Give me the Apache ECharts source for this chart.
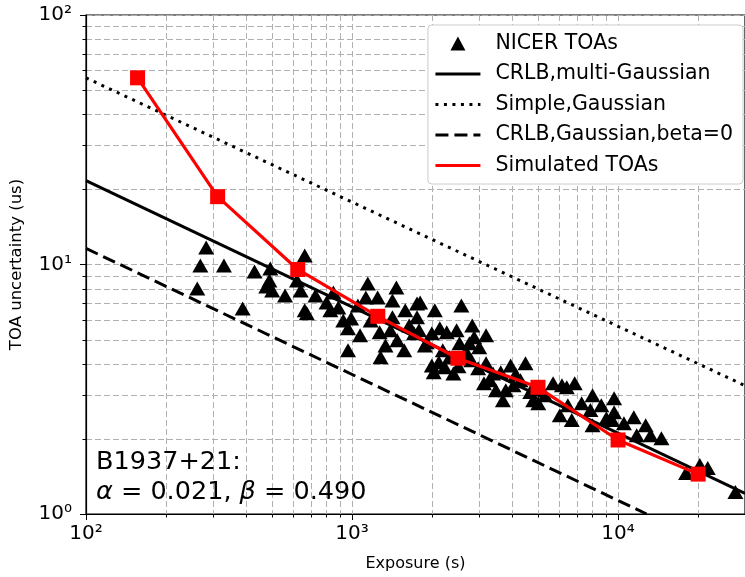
<!DOCTYPE html>
<html>
<head>
<meta charset="utf-8">
<script src="https://cdn.jsdelivr.net/npm/echarts@6/dist/echarts.min.js"></script>
<style>
html, body { margin: 0; padding: 0; background: #fff; }
#chart { width: 745px; height: 577px; }
</style>
</head>
<body>
<div id="chart"></div>
<script>
// NICER TOAs: exposure (s) and TOA uncertainty (us)
var nicerExposure = [262, 269, 283, 330, 388, 430, 493, 489, 476, 501, 560, 641, 621, 676, 664, 664,
    729, 802, 851, 888, 829, 992, 966, 966, 1146, 1127, 1248, 1270, 1280, 1419, 1394, 1585, 1755,
    1755, 1571, 1710, 1803, 2047, 2576, 1786, 1995, 2138, 2270, 2472, 2535, 2761, 2878, 3190, 3006,
    1995, 2120, 2028, 2230, 2404, 3190, 3388, 3133, 3475, 3945, 4487, 4298, 3690, 3784, 4797, 2328,
    5012, 5699, 6152, 6414, 6871, 7295, 6040, 6698, 6475, 8017, 9664, 9664, 9500, 10520, 11460,
    12700, 13250, 11750, 14550, 18020, 20290, 21730, 27610, 927, 1072, 1175, 1336, 1479, 1640, 1878,
    2643, 2806, 3622, 4046, 4677, 5321, 8017, 8650, 9036, 7870, 1468,
    1910, 2193, 2692, 2512, 2979, 3303, 4121, 2830, 5098, 1052, 1419];
var nicerError = [8.02, 9.9, 11.7, 9.9, 6.67, 9.38, 9.64, 8.63, 8.17, 7.87, 7.52, 7.87, 8.63, 6.37, 10.86, 6.55,
    7.52, 7.05, 7.73, 6.73, 6.55, 6.08, 5.55, 4.53, 8.39, 7.38, 7.38, 5.35, 4.25, 6.14, 5.45, 6.55, 6.98,
    6.14, 4.53, 5.30, 7.05, 6.55, 6.85, 5.45, 5.30, 5.55, 5.35, 5.45, 4.83, 4.83, 5.11, 5.2, 4.66,
    3.94, 4.06, 3.70, 3.87, 3.66, 4.02, 3.66, 3.34, 3.13, 3.94, 4.02, 3.44, 2.86, 3.13, 2.86, 4.25,
    2.78, 3.34, 3.28, 3.22, 3.34, 2.78, 2.49, 2.38, 2.73, 2.27, 2.91, 2.56, 2.38, 2.31, 2.44,
    2.27, 2.07, 2.07, 2.01, 1.46, 1.57, 1.53, 1.225, 5.97, 5.2, 5.97, 4.74, 4.97, 5.70, 4.74,
    4.33, 4.13, 3.70, 3.28, 3.08, 2.99, 2.99, 2.73, 2.42, 2.61, 8.09,
    4.88, 4.53, 4.45, 3.91, 3.84, 3.44, 3.63, 5.70, 3.19, 6.85, 7.18];

// model curves (straight in log-log), end points
var crlbMultiX = [100, 30000];
var crlbMultiY = [21.7, 1.21];
var simpleX = [100, 30000];
var simpleY = [56, 3.27];
var crlbBeta0X = [100, 12800];
var crlbBeta0Y = [11.6, 1.0];

// simulated TOAs
var simX = [156.25, 312.5, 625, 1250, 2500, 5000, 10000, 20000];
var simY = [56, 18.7, 9.55, 6.2, 4.21, 3.22, 1.98, 1.445];

// minor grid positions
var minorX = [200, 300, 400, 500, 600, 700, 800, 900, 2000, 3000, 4000, 5000, 6000, 7000, 8000, 9000, 20000];
var minorY = [2, 3, 4, 5, 6, 7, 8, 9, 20, 30, 40, 50, 60, 70, 80, 90];

var sup = { '0': '\u2070', '1': '\u00b9', '2': '\u00b2', '3': '\u00b3', '4': '\u2074' };
function powLabel(v) {
    var e = Math.log10(v);
    if (Math.abs(e - Math.round(e)) > 1e-6) return '';
    return '10' + sup[String(Math.round(e))];
}

function zip(a, b) {
    return a.map(function (v, i) { return [v, b[i]]; });
}

var gridColor = '#b0b0b0';
var noMark = { color: 'rgba(0,0,0,0)', borderWidth: 0 };

function minorXItem(params, api) {
    var cs = params.coordSys;
    var x = Math.round(api.coord([api.value(0), 10])[0]) + 0.5;
    var yb = cs.y + cs.height;
    return {
        type: 'group',
        children: [
            { type: 'line', shape: { x1: x, y1: cs.y, x2: x, y2: yb },
              style: { stroke: gridColor, lineWidth: 1, lineDash: [6, 3] } },
            { type: 'line', shape: { x1: x, y1: yb, x2: x, y2: yb + 3.5 },
              style: { stroke: '#000', lineWidth: 1 } }
        ]
    };
}
function minorYItem(params, api) {
    var cs = params.coordSys;
    var y = Math.round(api.coord([1000, api.value(1)])[1]) + 0.5;
    return {
        type: 'group',
        children: [
            { type: 'line', shape: { x1: cs.x, y1: y, x2: cs.x + cs.width, y2: y },
              style: { stroke: gridColor, lineWidth: 1, lineDash: [6, 3] } },
            { type: 'line', shape: { x1: cs.x - 3.5, y1: y, x2: cs.x, y2: y },
              style: { stroke: '#000', lineWidth: 1 } }
        ]
    };
}

var chart = echarts.init(document.getElementById('chart'));
var font = 'DejaVu Sans';
// triangle centred in a 45x14 legend box (degenerate end pieces only set the box)
var triIcon = 'path://M0,7L0.01,7Z M15,14L22.5,0L30,14Z M44.99,7L45,7Z';

chart.setOption({
    animation: false,
    textStyle: { fontFamily: font },
    grid: {
        left: 84, top: 15, bottom: 63, right: -8,
        show: true, borderColor: '#000', borderWidth: 1.2, backgroundColor: 'transparent'
    },
    xAxis: {
        type: 'log', logBase: 10, min: 100, max: 30000,
        name: 'Exposure (s)', nameLocation: 'middle', nameGap: 42,
        nameTextStyle: { fontSize: 16, color: '#000', fontFamily: font },
        axisLine: { show: true, lineStyle: { color: '#000', width: 1.2 } },
        axisTick: { show: true, length: 6, lineStyle: { color: '#000' } },
        axisLabel: { formatter: powLabel, fontSize: 20, color: '#000', margin: 10, fontFamily: font, showMaxLabel: false },
        splitLine: { show: true, lineStyle: { color: gridColor, type: [6, 3], width: 1 } }
    },
    yAxis: {
        type: 'log', logBase: 10, min: 1, max: 100,
        name: 'TOA uncertainty (us)', nameLocation: 'middle', nameGap: 61,
        nameTextStyle: { fontSize: 16.5, color: '#000', fontFamily: font },
        axisLine: { show: true, lineStyle: { color: '#000', width: 1.2 } },
        axisTick: { show: true, length: 6, lineStyle: { color: '#000' } },
        axisLabel: { formatter: powLabel, fontSize: 20, color: '#000', margin: 14, fontFamily: font },
        splitLine: { show: true, lineStyle: { color: gridColor, type: [6, 3], width: 1 } }
    },
    legend: {
        orient: 'vertical', right: 2, top: 25,
        backgroundColor: '#fff', borderColor: '#cccccc', borderWidth: 1, borderRadius: 4,
        padding: [8, 10, 8, 6],
        itemWidth: 45, itemHeight: 14, itemGap: 9.5,
        lineStyle: { width: 3 },
        textStyle: { fontSize: 20.5, color: '#000', fontFamily: font, padding: [0, 0, 0, 10] },
        data: [
            { name: 'NICER TOAs', icon: triIcon },
            'CRLB,multi-Gaussian', 'Simple,Gaussian', 'CRLB,Gaussian,beta=0', 'Simulated TOAs'
        ]
    },
    graphic: [{
        type: 'text', left: 96, top: 447, z: 100,
        style: {
            text: 'B1937+21:\n{i|\u03b1} = 0.021, {i|\u03b2} = 0.490',
            fontSize: 25.5, fontFamily: font, fill: '#000', lineHeight: 30,
            rich: { i: { fontStyle: 'italic', fontSize: 25.5, fontFamily: font } }
        }
    }],
    series: [
        {
            name: 'minorX', type: 'custom', renderItem: minorXItem, silent: true, z: 0,
            data: minorX.map(function (v) { return [v, 10]; })
        },
        {
            name: 'minorY', type: 'custom', renderItem: minorYItem, silent: true, z: 0,
            data: minorY.map(function (v) { return [1000, v]; })
        },
        {
            name: 'NICER TOAs', type: 'scatter', symbol: 'triangle', symbolSize: [16, 14],
            itemStyle: { color: '#000', opacity: 1 }, z: 3,
            data: zip(nicerExposure, nicerError)
        },
        {
            name: 'CRLB,multi-Gaussian', type: 'line', symbol: 'none', z: 4,
            lineStyle: { color: '#000', width: 3 }, itemStyle: noMark,
            data: zip(crlbMultiX, crlbMultiY)
        },
        {
            name: 'Simple,Gaussian', type: 'line', symbol: 'none', z: 4,
            lineStyle: { color: '#000', width: 3, type: [3, 5.5], cap: 'butt' }, itemStyle: noMark,
            data: zip(simpleX, simpleY)
        },
        {
            name: 'CRLB,Gaussian,beta=0', type: 'line', symbol: 'none', z: 4,
            lineStyle: { color: '#000', width: 3, type: [13, 6], cap: 'butt' }, itemStyle: noMark,
            data: zip(crlbBeta0X, crlbBeta0Y)
        },
        {
            name: 'Simulated TOAs', type: 'line', symbol: 'none', z: 5,
            lineStyle: { color: '#ff0000', width: 3.2 }, itemStyle: noMark,
            data: zip(simX, simY)
        },
        {
            name: 'simSquares', type: 'scatter', symbol: 'rect', symbolSize: 15, z: 6,
            itemStyle: { color: '#ff0000', opacity: 1 },
            data: zip(simX, simY)
        }
    ]
});
</script>
</body>
</html>
